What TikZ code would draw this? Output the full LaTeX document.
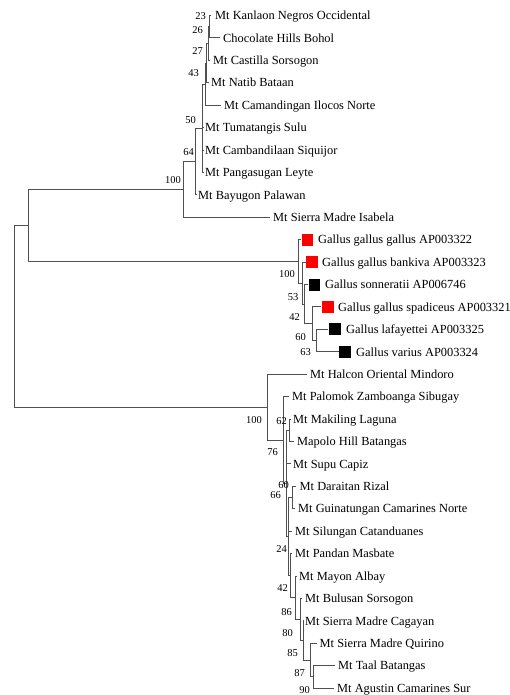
\documentclass[tikz,border=0pt]{standalone}
\usepackage{fontspec}
\setmainfont{Liberation Serif}
\definecolor{treegray}{HTML}{505050}
\definecolor{sqred}{HTML}{FF0000}
\begin{document}
\begin{tikzpicture}[x=1pt,y=-1pt,
  br/.style={draw=treegray,line width=1pt},
  leaf/.style={anchor=base west,inner sep=0pt,font=\fontsize{12.4}{14}\selectfont},
  bs/.style={anchor=east,inner sep=0pt,font=\fontsize{10.5}{12}\selectfont},
  sq/.style={minimum width=11.5pt,minimum height=12pt,inner sep=0pt,draw=none}]
\fill[white] (0,0) rectangle (510,695);
\useasboundingbox (0,0) rectangle (510,695);
% internal nodes
\coordinate (R) at (14,316.28);
\coordinate (P) at (28,225.43);
\coordinate (A) at (183,189.43);
\coordinate (B) at (195,161.58);
\coordinate (C) at (202,128.3);
\coordinate (D) at (205,84.16);
\coordinate (E) at (206.5,63.14);
\coordinate (F) at (208,43.53);
\coordinate (G) at (209.5,26.71);
\coordinate (H1) at (298,261.42);
\coordinate (H2) at (302,283.14);
\coordinate (H3) at (304.5,304.16);
\coordinate (H4) at (312,323.78);
\coordinate (H5) at (316,340.59);
\coordinate (Q) at (267,407.13);
\coordinate (Q2) at (283,440.04);
\coordinate (M2) at (286.5,483.43);
\coordinate (M1) at (289,430.27);
\coordinate (M3) at (288.5,536.59);
\coordinate (M4) at (292,497.53);
\coordinate (N6) at (290.5,575.65);
\coordinate (N5) at (295,597.72);
\coordinate (N4) at (300,619.44);
\coordinate (N3) at (303,640.46);
\coordinate (N2) at (310,660.08);
\coordinate (N1) at (313,676.89);
% leaf tips
\coordinate (l0) at (211,15.5);
\coordinate (l1) at (220,37.92);
\coordinate (l2) at (210,60.34);
\coordinate (l3) at (208.5,82.76);
\coordinate (l4) at (221,105.18);
\coordinate (l5) at (203.5,127.6);
\coordinate (l6) at (203.5,150.02);
\coordinate (l7) at (203.5,172.44);
\coordinate (l8) at (196.5,194.86);
\coordinate (l9) at (270,217.28);
\coordinate (l10) at (301,239.7);
\coordinate (l11) at (306,262.12);
\coordinate (l12) at (308,284.54);
\coordinate (l13) at (321,306.96);
\coordinate (l14) at (328,329.38);
\coordinate (l15) at (339,351.8);
\coordinate (l16) at (307,374.22);
\coordinate (l17) at (289,396.64);
\coordinate (l18) at (290.5,419.06);
\coordinate (l19) at (294,441.48);
\coordinate (l20) at (290.5,463.9);
\coordinate (l21) at (296,486.32);
\coordinate (l22) at (294.5,508.74);
\coordinate (l23) at (291.5,531.16);
\coordinate (l24) at (292,553.58);
\coordinate (l25) at (296.5,576.0);
\coordinate (l26) at (302,598.42);
\coordinate (l27) at (303.5,620.84);
\coordinate (l28) at (317,643.26);
\coordinate (l29) at (335,665.68);
\coordinate (l30) at (334,688.1);
% branches
\draw[br] (R) |- (P);
\draw[br] (R) |- (Q);
\draw[br] (P) |- (A);
\draw[br] (P) |- (H1);
\draw[br] (A) |- (B);
\draw[br] (A) |- (l9);
\draw[br] (B) |- (C);
\draw[br] (B) |- (l8);
\draw[br] (C) |- (D);
\draw[br] (C) |- (l5);
\draw[br] (C) |- (l6);
\draw[br] (C) |- (l7);
\draw[br] (D) |- (E);
\draw[br] (D) |- (l4);
\draw[br] (E) |- (F);
\draw[br] (E) |- (l3);
\draw[br] (F) |- (G);
\draw[br] (F) |- (l2);
\draw[br] (G) |- (l0);
\draw[br] (G) |- (l1);
\draw[br] (H1) |- (l10);
\draw[br] (H1) |- (H2);
\draw[br] (H2) |- (l11);
\draw[br] (H2) |- (H3);
\draw[br] (H3) |- (l12);
\draw[br] (H3) |- (H4);
\draw[br] (H4) |- (l13);
\draw[br] (H4) |- (H5);
\draw[br] (H5) |- (l14);
\draw[br] (H5) |- (l15);
\draw[br] (Q) |- (l16);
\draw[br] (Q) |- (Q2);
\draw[br] (Q2) |- (l17);
\draw[br] (Q2) |- (M2);
\draw[br] (M2) |- (M1);
\draw[br] (M2) |- (l20);
\draw[br] (M2) |- (M3);
\draw[br] (M1) |- (l18);
\draw[br] (M1) |- (l19);
\draw[br] (M3) |- (M4);
\draw[br] (M3) |- (l23);
\draw[br] (M3) |- (N6);
\draw[br] (M4) |- (l21);
\draw[br] (M4) |- (l22);
\draw[br] (N6) |- (l24);
\draw[br] (N6) |- (N5);
\draw[br] (N5) |- (l25);
\draw[br] (N5) |- (N4);
\draw[br] (N4) |- (l26);
\draw[br] (N4) |- (N3);
\draw[br] (N3) |- (l27);
\draw[br] (N3) |- (N2);
\draw[br] (N2) |- (l28);
\draw[br] (N2) |- (N1);
\draw[br] (N1) |- (l29);
\draw[br] (N1) |- (l30);
% squares
\node[sq,fill=sqred] (s10) at (307.5,239.7) {};
\node[sq,fill=sqred] (s11) at (312,262.12) {};
\node[sq,fill=black] (s12) at (314.5,284.54) {};
\node[sq,fill=sqred] (s13) at (328,306.96) {};
\node[sq,fill=black] (s14) at (335,329.38) {};
\node[sq,fill=black] (s15) at (345,351.8) {};
% leaf labels
\node[leaf] (t0) at (215,19.7) {Mt Kanlaon Negros Occidental};
\node[leaf] (t1) at (223,42.12) {Chocolate Hills Bohol};
\node[leaf] (t2) at (213,64.54) {Mt Castilla Sorsogon};
\node[leaf] (t3) at (211,86.96) {Mt Natib Bataan};
\node[leaf] (t4) at (224,109.38) {Mt Camandingan Ilocos Norte};
\node[leaf] (t5) at (205,131.8) {Mt Tumatangis Sulu};
\node[leaf] (t6) at (205,154.22) {Mt Cambandilaan Siquijor};
\node[leaf] (t7) at (205,176.64) {Mt Pangasugan Leyte};
\node[leaf] (t8) at (198,199.06) {Mt Bayugon Palawan};
\node[leaf] (t9) at (273,221.48) {Mt Sierra Madre Isabela};
\node[leaf] (t10) at (318,243.9) {Gallus gallus gallus AP003322};
\node[leaf] (t11) at (322,266.32) {Gallus gallus bankiva AP003323};
\node[leaf] (t12) at (325,288.74) {Gallus sonneratii AP006746};
\node[leaf] (t13) at (338,311.16) {Gallus gallus spadiceus AP003321};
\node[leaf] (t14) at (346,333.58) {Gallus lafayettei AP003325};
\node[leaf] (t15) at (356,356.0) {Gallus varius AP003324};
\node[leaf] (t16) at (310,378.42) {Mt Halcon Oriental Mindoro};
\node[leaf] (t17) at (292,400.84) {Mt Palomok Zamboanga Sibugay};
\node[leaf] (t18) at (293,423.26) {Mt Makiling Laguna};
\node[leaf] (t19) at (297,445.68) {Mapolo Hill Batangas};
\node[leaf] (t20) at (293,468.1) {Mt Supu Capiz};
\node[leaf] (t21) at (299.5,490.52) {Mt Daraitan Rizal};
\node[leaf] (t22) at (298,512.94) {Mt Guinatungan Camarines Norte};
\node[leaf] (t23) at (295,535.36) {Mt Silungan Catanduanes};
\node[leaf] (t24) at (295,557.78) {Mt Pandan Masbate};
\node[leaf] (t25) at (299,580.2) {Mt Mayon Albay};
\node[leaf] (t26) at (305,602.62) {Mt Bulusan Sorsogon};
\node[leaf] (t27) at (305,625.04) {Mt Sierra Madre Cagayan};
\node[leaf] (t28) at (319.5,647.46) {Mt Sierra Madre Quirino};
\node[leaf] (t29) at (338,669.88) {Mt Taal Batangas};
\node[leaf] (t30) at (337,692.3) {Mt Agustin Camarines Sur};
% bootstrap values
\node[bs] (bG) at (206,16.5) {23};
\node[bs] (bF) at (203,30) {26};
\node[bs] (bE) at (203,51) {27};
\node[bs] (bD) at (199,73) {43};
\node[bs] (bC) at (196,120.5) {50};
\node[bs] (bB) at (194,152) {64};
\node[bs] (bA) at (181,180) {100};
\node[bs] (bH1) at (295,274) {100};
\node[bs] (bH2) at (298.5,297) {53};
\node[bs] (bH3) at (300,317) {42};
\node[bs] (bH4) at (306,337.5) {60};
\node[bs] (bH5) at (311,352) {63};
\node[bs] (bQ) at (262,420) {100};
\node[bs] (bM1) at (287,421) {62};
\node[bs] (bQ2) at (278,452) {76};
\node[bs] (bM4) at (289,485) {60};
\node[bs] (bM2) at (281,495) {66};
\node[bs] (bM3) at (287,549) {24};
\node[bs] (bN6) at (288,588) {42};
\node[bs] (bN5) at (292,612) {86};
\node[bs] (bN4) at (293,633) {80};
\node[bs] (bN3) at (298,653) {85};
\node[bs] (bN2) at (305,673) {87};
\node[bs] (bN1) at (310,690) {90};
\end{tikzpicture}
\end{document}
